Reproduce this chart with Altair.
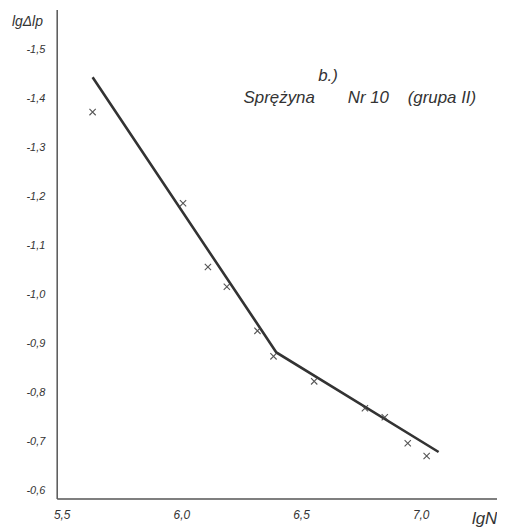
import altair as alt
import pandas as pd

# measured points (lg N, lg delta lp)
lgN_pts = [5.629, 6.007, 6.111, 6.190, 6.318, 6.385, 6.555, 6.767, 6.850, 6.946, 7.025]
lgdl_pts = [-1.372, -1.186, -1.056, -1.016, -0.926, -0.874, -0.823, -0.768, -0.750, -0.697, -0.671]

# fitted broken line
lgN_line = [5.629, 6.397, 7.075]
lgdl_line = [-1.443, -0.882, -0.679]

y_ticks = [-1.5, -1.4, -1.3, -1.2, -1.1, -1.0, -0.9, -0.8, -0.7, -0.6]
x_ticks = [5.5, 6.0, 6.5, 7.0]

NB = "\u00a0"
annot_b = "b.)"
annot_s = "Sprężyna" + NB * 7 + "Nr 10" + NB * 4 + "(grupa II)"

pts = pd.DataFrame({"x": lgN_pts, "y": lgdl_pts})
line = pd.DataFrame({"x": lgN_line, "y": lgdl_line})

FONT = "Liberation Sans"
INK = "#333333"

xscale = alt.Scale(domain=[5.479, 7.319], nice=False, zero=False)
yscale = alt.Scale(domain=[-1.581, -0.584], nice=False, zero=False, reverse=True)

xaxis = alt.Axis(
    values=x_ticks, ticks=False, grid=False, labelPadding=11,
    labelExpr="replace(format(datum.value, '.1f'), '.', ',')",
    labelFont=FONT, labelFontStyle="italic", labelFontSize=12, labelColor=INK,
    domainColor="#555", domainWidth=1.5,
    title="lgN", titleFont=FONT, titleFontStyle="italic", titleFontWeight="normal",
    titleFontSize=17, titleColor=INK, titleX=430, titleY=20,
    titleAlign="center", titleBaseline="middle",
)
yaxis = alt.Axis(
    values=y_ticks, ticks=False, grid=False, labelPadding=12,
    labelExpr="'-' + replace(format(abs(datum.value), '.1f'), '.', ',')",
    labelFont=FONT, labelFontStyle="italic", labelFontSize=11, labelColor=INK,
    domainColor="#555", domainWidth=1.5,
    title="lgΔlp", titleFont=FONT, titleFontStyle="italic", titleFontWeight="normal",
    titleFontSize=14, titleColor=INK, titleAngle=0, titleX=-30, titleY=12,
    titleAlign="center", titleBaseline="middle",
)

base_line = alt.Chart(line).mark_line(color="#333", strokeWidth=2.6).encode(
    x=alt.X("x:Q", scale=xscale, axis=xaxis),
    y=alt.Y("y:Q", scale=yscale, axis=yaxis),
)

points = alt.Chart(pts).mark_point(
    shape="M-1,-1L1,1M1,-1L-1,1", size=40, filled=False, color="#444",
    strokeWidth=1.1, opacity=0.9
).encode(x=alt.X("x:Q", scale=xscale), y=alt.Y("y:Q", scale=yscale))

label_b = alt.Chart(pd.DataFrame({"t": [annot_b]})).mark_text(
    font=FONT, fontStyle="italic", fontSize=17, color=INK
).encode(x=alt.datum(6.613), y=alt.datum(-1.445), text="t:N")

label_s = alt.Chart(pd.DataFrame({"t": [annot_s]})).mark_text(
    font=FONT, fontStyle="italic", fontSize=17, color=INK, align="left"
).encode(x=alt.datum(6.26), y=alt.datum(-1.401), text="t:N")

chart = alt.layer(base_line, points, label_b, label_s).properties(
    width=443, height=492,
    autosize=alt.AutoSizeParams(type="none"),
    padding={"left": 49, "top": 0, "right": 0, "bottom": 30},
    background="white",
).configure_view(stroke=None)

chart.save("out.html", embed_options={"renderer": "svg", "actions": False})
